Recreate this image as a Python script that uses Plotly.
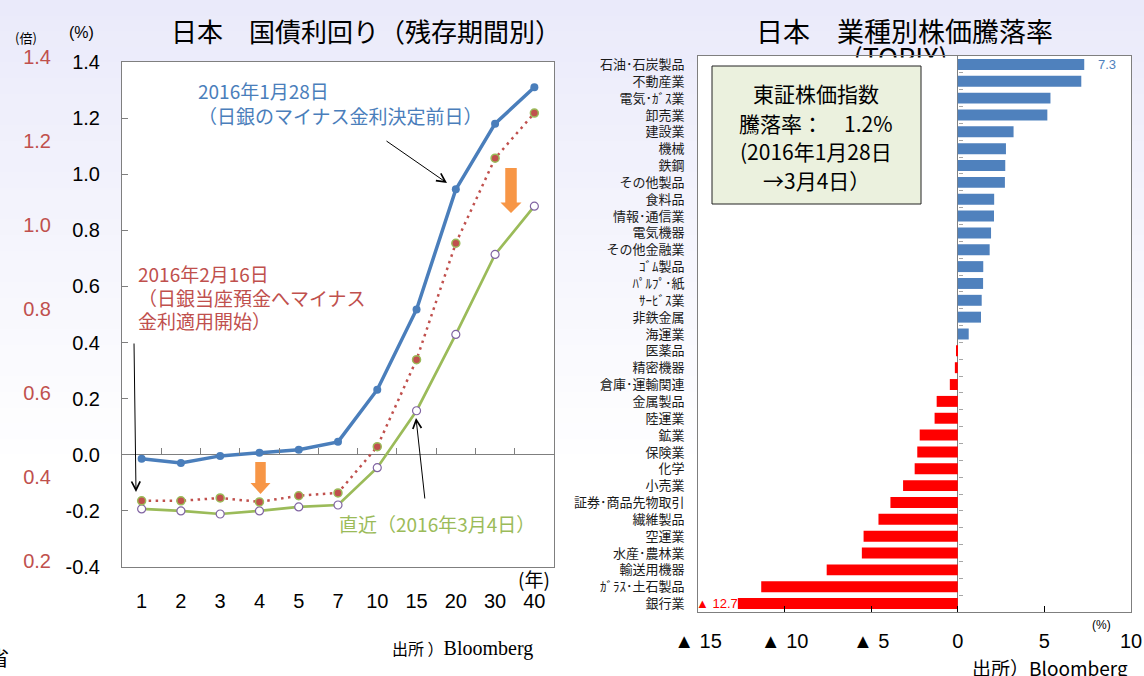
import plotly.graph_objects as go

W, H = 1144, 676
FONT_LATIN = "Liberation Sans, Arial, Noto Sans CJK JP, sans-serif"
FONT_CJK = "Noto Sans CJK JP, sans-serif"

# ---------------- data: JGB yields by maturity ----------------
maturities = ['1', '2', '3', '4', '5', '7', '10', '15', '20', '30', '40']
yield_jan28 = [-0.014, -0.029, -0.004, 0.007, 0.018, 0.046, 0.232, 0.518, 0.946, 1.180, 1.310]
yield_feb16 = [-0.164, -0.164, -0.154, -0.168, -0.146, -0.136, 0.029, 0.339, 0.754, 1.057, 1.218]
yield_mar04 = [-0.193, -0.200, -0.211, -0.200, -0.186, -0.179, -0.046, 0.157, 0.429, 0.714, 0.886]
yticks_pct = [-0.4, -0.2, 0.0, 0.2, 0.4, 0.6, 0.8, 1.0, 1.2, 1.4]
yticks_bai = [0.2, 0.4, 0.6, 0.8, 1.0, 1.2, 1.4]

# ---------------- data: TOPIX sector returns ----------------
sectors = ['石油･石炭製品', '不動産業', '電気･ｶﾞｽ業', '卸売業', '建設業', '機械', '鉄鋼',
           'その他製品', '食料品', '情報･通信業', '電気機器', 'その他金融業', 'ｺﾞﾑ製品',
           'ﾊﾟﾙﾌﾟ･紙', 'ｻｰﾋﾞｽ業', '非鉄金属', '海運業', '医薬品', '精密機器', '倉庫･運輸関連',
           '金属製品', '陸運業', '鉱業', '保険業', '化学', '小売業', '証券･商品先物取引',
           '繊維製品', '空運業', '水産･農林業', '輸送用機器', 'ｶﾞﾗｽ･土石製品', '銀行業']
sector_returns = [7.3, 7.13, 5.35, 5.17, 3.22, 2.78, 2.74, 2.72, 2.10, 2.09, 1.92, 1.84, 1.47,
                  1.46, 1.38, 1.34, 0.63, -0.08, -0.17, -0.46, -1.22, -1.34, -2.20, -2.34,
                  -2.49, -3.16, -3.89, -4.58, -5.44, -5.54, -7.57, -11.35, -12.7]
xticks_ret = [-15, -10, -5, 0, 5, 10]
xticklabels_ret = ['▲ 15', '▲ 10', '▲ 5', '0', '5', '10']
topix_change = 1.2


def px(x):
    return x / W


def py(y):
    return 1 - y / H


LEFT_X = [px(122), px(554)]
LEFT_Y = [py(567), py(62)]
BAI_Y = [py(561), py(57)]
RIGHT_X = [px(698), px(1131)]
RIGHT_Y = [py(612), py(56)]

BLUE = '#4a7ebb'
RED = '#c0504d'
GREEN = '#9bbb59'
PURPLE = '#8064a2'
ORANGE = '#f79646'
BAR_BLUE = '#4f81bd'
BAR_RED = '#ff0000'
AXIS_GRAY = '#7f7f7f'

fig = go.Figure()

# ---- left chart lines ----
fig.add_trace(go.Scatter(
    x=maturities, y=yield_mar04, mode='lines+markers',
    line=dict(color=GREEN, width=2.7),
    marker=dict(size=8, color='white', line=dict(color=PURPLE, width=1.2)),
    xaxis='x', yaxis='y', hoverinfo='skip'))
fig.add_trace(go.Scatter(
    x=maturities, y=yield_feb16, mode='lines+markers',
    line=dict(color=RED, width=2.5, dash='2.5px,4.5px'),
    marker=dict(size=8, color=RED, line=dict(color=GREEN, width=1.5)),
    xaxis='x', yaxis='y', hoverinfo='skip'))
fig.add_trace(go.Scatter(
    x=maturities, y=yield_jan28, mode='lines+markers',
    line=dict(color=BLUE, width=3.5),
    marker=dict(size=8, color=BLUE),
    xaxis='x', yaxis='y', hoverinfo='skip'))

# helper traces so the extra axes render
fig.add_trace(go.Scatter(x=[None], y=[None], xaxis='x', yaxis='y3', hoverinfo='skip'))
fig.add_trace(go.Scatter(x=[None], y=[None], xaxis='x3', yaxis='y', hoverinfo='skip'))

# ---- right chart bars ----
fig.add_trace(go.Bar(
    x=sector_returns, y=sectors, orientation='h',
    marker=dict(color=[BAR_BLUE if v >= 0 else BAR_RED for v in sector_returns], line=dict(width=0)),
    xaxis='x2', yaxis='y2', hoverinfo='skip'))
fig.add_trace(go.Scatter(x=[None], y=[None], xaxis='x2', yaxis='y4', hoverinfo='skip'))
# subtitle partially hidden behind the plot area
fig.add_trace(go.Scatter(
    x=[-3.3], y=[0.990], mode='text', text=['(TOPIX)'],
    textfont=dict(size=27, family=FONT_CJK, color='black'),
    xaxis='x2', yaxis='y5', cliponaxis=False, hoverinfo='skip'))

# ---------------- shapes ----------------
shapes = []
# background gradient (lavender -> white)
N = 30
top_c = (234, 234, 250)
grad_end = 470
for i in range(N):
    y0 = grad_end * i / N
    y1 = grad_end * (i + 1) / N + 1
    t = (i + 0.5) / N
    c = tuple(int(round(top_c[k] + (255 - top_c[k]) * t)) for k in range(3))
    shapes.append(dict(type='rect', xref='paper', yref='paper', x0=0, x1=1,
                       y0=py(y1), y1=py(y0), fillcolor='rgb(%d,%d,%d)' % c,
                       line=dict(width=0), layer='below'))
# white plot areas
for dx, dy in ((LEFT_X, LEFT_Y), (RIGHT_X, RIGHT_Y)):
    shapes.append(dict(type='rect', xref='paper', yref='paper', x0=dx[0], x1=dx[1],
                       y0=dy[0], y1=dy[1], fillcolor='white', line=dict(width=0), layer='below'))
# cover the lower part of the "(TOPIX)" subtitle
shapes.append(dict(type='rect', xref='x2', yref='y2 domain', x0=-8.5, x1=-0.12,
                   y0=0.94, y1=1 - 1.5 / 556, fillcolor='white', line=dict(width=0), layer='above'))
# info box
shapes.append(dict(type='rect', xref='paper', yref='paper', x0=px(712), x1=px(921),
                   y0=py(204), y1=py(66), fillcolor='#ebf1de',
                   line=dict(color='#222222', width=1), layer='above'))


# orange block arrows
def block_arrow(cx, top, bottom, sw, hw, hh):
    pts = [(cx - sw / 2, top), (cx + sw / 2, top), (cx + sw / 2, bottom - hh),
           (cx + hw / 2, bottom - hh), (cx, bottom), (cx - hw / 2, bottom - hh),
           (cx - sw / 2, bottom - hh)]
    d = 'M ' + ' L '.join('%.5f,%.5f' % (px(a), py(b)) for a, b in pts) + ' Z'
    return dict(type='path', xref='paper', yref='paper', path=d, fillcolor=ORANGE,
                line=dict(width=0), layer='above')


shapes.append(block_arrow(260.5, 462, 494, 10.5, 20, 11))
shapes.append(block_arrow(511, 168, 213, 11.5, 21, 10.5))

# ---------------- annotations ----------------
ann = []


def text(x, y, s, size, color='black', family=FONT_CJK, xanchor='center', yanchor='middle'):
    ann.append(dict(x=px(x), y=py(y), xref='paper', yref='paper', text=s, showarrow=False,
                    font=dict(size=size, color=color, family=family),
                    xanchor=xanchor, yanchor=yanchor))


def line_arrow(tx, ty, hx, hy):
    ann.append(dict(x=px(hx), y=py(hy), xref='paper', yref='paper', ax=tx - hx, ay=ty - hy,
                    text='', showarrow=True, arrowhead=5, arrowsize=1.7, arrowwidth=1,
                    arrowcolor='black'))


# titles
text(366, 30, '日本　国債利回り（残存期間別）', 26)
text(904, 30, '日本　業種別株価騰落率', 27)
# axis unit labels
text(26, 38, '(倍)', 13, family=FONT_CJK)
text(81, 33, '(%)', 16, family=FONT_LATIN)
text(534, 578, '(年)', 19)
text(1101, 625, '(%)', 12, family=FONT_LATIN)

# series labels
text(196, 91, '2016年1月28日', 19, BLUE, xanchor='left')
text(196, 115, '（日銀のマイナス金利決定前日）', 19, BLUE, xanchor='left')
text(136, 273, '2016年2月16日', 19, RED, xanchor='left')
text(136, 297, '（日銀当座預金へマイナス', 19, RED, xanchor='left')
text(136, 320, '金利適用開始）', 19, RED, xanchor='left')
text(437, 523, '直近（2016年3月4日）', 19, GREEN)

line_arrow(385, 140, 447, 183)
line_arrow(134, 342, 136, 492)
line_arrow(425, 500, 416, 418)

# info box text
text(816, 93, '東証株価指数', 21)
text(816, 123, '騰落率：　%.1f%%' % topix_change, 21)
text(816, 151, '(2016年1月28日', 21)
text(816, 180, '→3月4日）', 21)

# bar value labels
ann.append(dict(x=sector_returns[0] + 0.7, y=sectors[0], xref='x2', yref='y2',
                text='%.1f' % sector_returns[0], showarrow=False, xanchor='left',
                font=dict(size=13, color=BAR_BLUE, family=FONT_LATIN)))
ann.append(dict(x=sector_returns[-1] + 0.1, y=sectors[-1], xref='x2', yref='y2',
                text='▲ %.1f' % abs(sector_returns[-1]), showarrow=False, xanchor='right',
                font=dict(size=13, color=BAR_RED, family=FONT_LATIN)))

# sources
text(390, 648, '出所 ）<span style="font-family:Liberation Serif, serif;font-size:20px">Bloomberg</span>',
     16, xanchor='left')
text(1050, 667, '出所）Bloomberg', 19)
text(11, 657, '省', 20, xanchor='right')

# ---------------- layout ----------------
zero_frac = LEFT_Y[0] + (LEFT_Y[1] - LEFT_Y[0]) * (0 - yticks_pct[0]) / (yticks_pct[-1] - yticks_pct[0])
bar_zero_frac = RIGHT_X[0] + (RIGHT_X[1] - RIGHT_X[0]) * (0 - xticks_ret[0]) / (xticks_ret[-1] - xticks_ret[0])
n = len(sectors)

fig.update_layout(
    width=W, height=H, autosize=False,
    margin=dict(l=0, r=0, t=0, b=0, pad=0, autoexpand=False),
    paper_bgcolor='white', plot_bgcolor='rgba(0,0,0,0)',
    showlegend=False, bargap=0.35,
    font=dict(family=FONT_LATIN, color='black'),
    shapes=shapes, annotations=ann,
    xaxis=dict(domain=LEFT_X, anchor='y', type='category', range=[-0.5, len(maturities) - 0.5],
               showline=True, mirror=True, linecolor=AXIS_GRAY, linewidth=1, automargin=False,
               ticks='', showgrid=False, zeroline=False,
               tickfont=dict(size=20, family=FONT_LATIN, color='black'), ticklabelstandoff=16),
    yaxis=dict(domain=LEFT_Y, anchor='x', range=[yticks_pct[0], yticks_pct[-1]],
               tickvals=yticks_pct, ticktext=['%.1f' % v for v in yticks_pct],
               ticks='inside', ticklen=6, tickcolor=AXIS_GRAY, automargin=False,
               showline=True, mirror=True, linecolor=AXIS_GRAY, linewidth=1,
               zeroline=True, zerolinecolor=AXIS_GRAY, zerolinewidth=1, showgrid=False,
               tickfont=dict(size=20, family=FONT_LATIN, color='black'), ticklabelstandoff=17),
    yaxis3=dict(domain=BAI_Y, anchor='free', position=px(51), side='left',
                range=[yticks_bai[0], yticks_bai[-1]], tickvals=yticks_bai,
                ticktext=['%.1f' % v for v in yticks_bai], automargin=False,
                ticks='', showline=False, showgrid=False, zeroline=False,
                tickfont=dict(size=20, family=FONT_LATIN, color=RED)),
    xaxis3=dict(overlaying='x', anchor='free', position=zero_frac, side='bottom',
                range=[-0.5, len(maturities) - 0.5], automargin=False,
                tickvals=[i + 0.5 for i in range(len(maturities) - 1)],
                ticks='inside', ticklen=7, tickcolor=AXIS_GRAY, showticklabels=False,
                showline=False, showgrid=False, zeroline=False),
    xaxis2=dict(domain=RIGHT_X, anchor='y2', range=[xticks_ret[0], xticks_ret[-1]],
                tickvals=xticks_ret, ticktext=xticklabels_ret, automargin=False,
                ticks='inside', ticklen=6, tickcolor='black',
                showline=True, mirror=True, linecolor=AXIS_GRAY, linewidth=1,
                zeroline=True, zerolinecolor=AXIS_GRAY, zerolinewidth=1, showgrid=False,
                tickfont=dict(size=20, family=FONT_LATIN, color='black'), ticklabelstandoff=11),
    yaxis2=dict(domain=RIGHT_Y, anchor='x2', type='category', automargin=False,
                categoryorder='array', categoryarray=sectors, range=[n - 0.5, -0.5],
                ticks='', showline=True, mirror=True, linecolor=AXIS_GRAY, linewidth=1,
                showgrid=False, zeroline=False,
                tickfont=dict(size=13, family=FONT_CJK, color='#1a1a1a'), ticklabelstandoff=10),
    yaxis4=dict(overlaying='y2', anchor='free', position=bar_zero_frac, side='left',
                range=[n - 0.5, -0.5], tickvals=[i + 0.5 for i in range(n - 1)],
                ticks='inside', ticklen=4, tickcolor='#a6a6a6', showticklabels=False,
                showline=False, showgrid=False, zeroline=False, automargin=False),
    yaxis5=dict(overlaying='y2', anchor='x2', range=[0, 1], visible=False, automargin=False),
)

fig.write_html('out.html')
